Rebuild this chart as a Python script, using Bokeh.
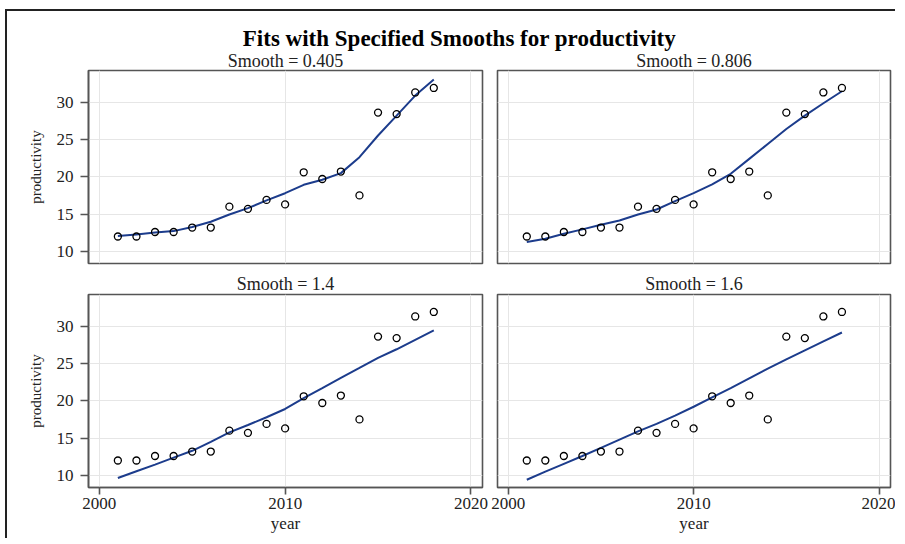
from bokeh.plotting import figure
from bokeh.layouts import column, row
from bokeh.models import FixedTicker, Range1d
from bokeh.core.properties import value
from bokeh.embed import file_html
from bokeh.resources import INLINE

# ---------------- data ----------------
years = [2001, 2002, 2003, 2004, 2005, 2006, 2007, 2008, 2009,
         2010, 2011, 2012, 2013, 2014, 2015, 2016, 2017, 2018]
productivity = [12.0, 12.0, 12.6, 12.6, 13.2, 13.2, 16.0, 15.7, 16.9,
                16.3, 20.6, 19.7, 20.7, 17.5, 28.6, 28.4, 31.3, 31.9]

smooth_labels = ["Smooth = 0.405", "Smooth = 0.806", "Smooth = 1.4", "Smooth = 1.6"]
fit_0405 = [12.05, 12.28, 12.54, 12.72, 13.26, 13.97, 14.95, 15.80, 16.83,
            17.80, 18.92, 19.60, 20.49, 22.63, 25.53, 28.20, 30.88, 33.02]
fit_0806 = [11.25, 11.70, 12.37, 12.95, 13.57, 14.15, 14.95, 15.62, 16.74,
            17.80, 18.97, 20.40, 22.40, 24.40, 26.40, 28.20, 29.85, 31.46]
fit_14 = [9.65, 10.55, 11.45, 12.38, 13.30, 14.50, 15.77, 16.75, 17.79,
          18.90, 20.34, 21.70, 23.07, 24.40, 25.75, 26.90, 28.16, 29.42]
fit_16 = [9.42, 10.50, 11.55, 12.60, 13.70, 14.80, 15.90, 16.90, 18.00,
          19.20, 20.45, 21.70, 23.00, 24.30, 25.55, 26.75, 27.95, 29.15]

x_ticks = [2000, 2010, 2020]
y_ticks = [10, 15, 20, 25, 30]
main_title = "Fits with Specified Smooths for productivity"
x_label = "year"
y_label = "productivity"

# ---------------- styling ----------------
FONT = "Liberation Serif"
LINE_COLOR = "#1c3c8c"
FRAME_COLOR = "#555555"
GRID_COLOR = "#e6e6e6"
TEXT_COLOR = "#222222"
X_RANGE = (1999.42, 2020.62)
Y_RANGE = (8.38, 34.24)

# layout geometry (pixels)
W_LEFT, W_RIGHT = 483, 405
STRIP_H = 58
TOP_H = 201
BOT_H = 268


def make_panel(label, fit, show_x, show_y, width, height, mbl, mbr, mbt, mbb):
    p = figure(width=width, height=height, title=label,
               x_range=Range1d(*X_RANGE), y_range=Range1d(*Y_RANGE),
               output_backend="svg", toolbar_location=None,
               min_border_left=mbl, min_border_right=mbr,
               min_border_top=mbt, min_border_bottom=mbb)
    if label is not None:
        p.title.align = "center"
        p.title.text_font = FONT
        p.title.text_font_size = "18px"
        p.title.text_font_style = "normal"
        p.title.text_color = TEXT_COLOR
        p.title.standoff = 1
        p.title.offset = 0
    p.background_fill_color = "white"
    p.border_fill_color = "white"
    p.outline_line_color = FRAME_COLOR
    p.outline_line_width = 1.6

    p.xgrid.ticker = FixedTicker(ticks=x_ticks)
    p.ygrid.ticker = FixedTicker(ticks=y_ticks)
    p.grid.grid_line_color = GRID_COLOR
    p.grid.grid_line_width = 1

    for ax in p.xaxis:
        ax.ticker = FixedTicker(ticks=x_ticks)
    for ax in p.yaxis:
        ax.ticker = FixedTicker(ticks=y_ticks)
    for ax in p.axis:
        ax.axis_line_color = FRAME_COLOR
        ax.axis_line_width = 1.6
        ax.major_tick_line_color = FRAME_COLOR
        ax.major_tick_line_width = 1.6
        ax.minor_tick_line_color = None
        ax.major_tick_in = 0
        ax.major_label_text_font = FONT
        ax.major_label_text_font_size = "17px"
        ax.major_label_text_color = TEXT_COLOR
        ax.axis_label_text_font = FONT
        ax.axis_label_text_font_style = "normal"
        ax.axis_label_text_color = TEXT_COLOR

    if show_x:
        p.xaxis.axis_label = x_label
        p.xaxis.axis_label_text_font_size = "17px"
        p.xaxis.major_tick_out = 7
        p.xaxis.major_label_standoff = 3
        p.xaxis.axis_label_standoff = 2
    else:
        p.xaxis.visible = False
    if show_y:
        p.yaxis.axis_label = y_label
        p.yaxis.axis_label_text_font_size = "15px"
        p.yaxis.major_tick_out = 8
        p.yaxis.major_label_standoff = 7
        p.yaxis.axis_label_standoff = 10
    else:
        p.yaxis.visible = False

    p.line(years, fit, line_color=LINE_COLOR, line_width=2)
    p.scatter(years, productivity, marker="circle", size=7,
              fill_color=None, line_color="black", line_width=1.3)
    return p


# strip holding the main title and the two upper panel headers (pixel ranges)
W_ALL = W_LEFT + W_RIGHT
t = figure(width=W_ALL, height=STRIP_H, x_range=Range1d(0, W_ALL),
           y_range=Range1d(0, STRIP_H), output_backend="svg",
           toolbar_location=None, min_border=0, title=None)
t.axis.visible = False
t.grid.visible = False
t.outline_line_color = None
t.text(x=[452], y=[31.5], text=[main_title], text_align="center",
       text_baseline="alphabetic", text_font=value(FONT),
       text_font_size="23px", text_font_style="bold", text_color="black")
left_frame_center = 81 + 394 / 2
right_frame_center = W_LEFT + 7 + 393 / 2
t.text(x=[left_frame_center, right_frame_center], y=[9, 9],
       text=smooth_labels[:2], text_align="center", text_baseline="alphabetic",
       text_font=value(FONT), text_font_size="18px", text_color=TEXT_COLOR)

tl = make_panel(None, fit_0405, False, True, W_LEFT, TOP_H, 81, 8, 1, 7)
tr = make_panel(None, fit_0806, False, False, W_RIGHT, TOP_H, 7, 5, 1, 7)
bl = make_panel(smooth_labels[2], fit_14, True, True, W_LEFT, BOT_H, 81, 8, 24, 51)
br = make_panel(smooth_labels[3], fit_16, True, False, W_RIGHT, BOT_H, 7, 5, 24, 51)

layout = column(t, row(tl, tr), row(bl, br),
                styles={"margin-left": "5px", "margin-top": "9px",
                        "border-top": "2px solid #222", "border-left": "2px solid #222"})

open("out.html", "w").write(file_html(layout, INLINE))
